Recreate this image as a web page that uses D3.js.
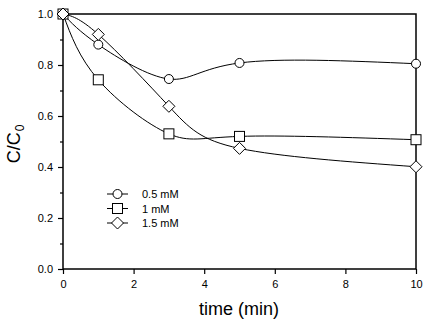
<!DOCTYPE html>
<html><head><meta charset="utf-8">
<script src="https://cdn.jsdelivr.net/npm/d3@7"></script>
<style>body{margin:0;background:#fff}svg{display:block}text{font-family:"Liberation Sans",Arial,sans-serif}</style>
</head><body>
<svg id="c" width="436" height="327"></svg>
<script>
const times = [0, 1, 3, 5, 10];
const seriesNames = ["0.5 mM", "1 mM", "1.5 mM"];
const vals05 = [1.0, 0.88, 0.745, 0.808, 0.805];
const vals1 = [1.0, 0.742, 0.53, 0.52, 0.507];
const vals15 = [1.0, 0.92, 0.638, 0.473, 0.401];
const xTicks = [0, 2, 4, 6, 8, 10];
const yTicks = [0.0, 0.2, 0.4, 0.6, 0.8, 1.0];
const yMinor = [0.1, 0.3, 0.5, 0.7, 0.9];
const markers = ["circle", "square", "diamond"];

const svg = d3.select("#c");
const L = 63, R = 416, T = 14, B = 269;
const x = d3.scaleLinear().domain([0, 10]).range([L, R]);
const y = d3.scaleLinear().domain([0, 1]).range([B, T]);

// frame
svg.append("rect").attr("x", L).attr("y", T).attr("width", R - L).attr("height", B - T)
  .attr("fill", "none").attr("stroke", "#000").attr("stroke-width", 1.5);

svg.append("g").attr("transform", `translate(0,${B})`)
  .call(d3.axisBottom(x).tickValues(xTicks).tickFormat(d3.format("d")).tickSizeOuter(0).tickSizeInner(5).tickPadding(6));
svg.append("g").attr("transform", `translate(${L},0)`)
  .call(d3.axisLeft(y).tickValues(yTicks).tickFormat(d3.format(".1f")).tickSizeOuter(0).tickSizeInner(5).tickPadding(5));
svg.append("g").attr("transform", `translate(${L},0)`)
  .call(d3.axisLeft(y).tickValues(yMinor).tickFormat("").tickSizeOuter(0).tickSizeInner(3));
svg.selectAll(".domain").remove();
svg.selectAll(".tick line").attr("stroke", "#000").attr("stroke-width", 1.2);
svg.selectAll(".tick text").attr("font-size", 11).attr("fill", "#000").style("font-family", "Liberation Sans, Arial, sans-serif");

// titles
svg.append("text").attr("x", 239).attr("y", 315).attr("text-anchor", "middle")
  .attr("font-size", 18).text("time (min)");
const yt = svg.append("text").attr("transform", `translate(20,144) rotate(-90)`)
  .attr("text-anchor", "middle").attr("font-size", 18);
yt.append("tspan").text("C/C");
yt.append("tspan").attr("font-size", 12).attr("dx", 1).attr("dy", 4).text("0");

const data = [vals05, vals1, vals15];
const line = d3.line().x((d, i) => x(times[i])).y(d => y(d)).curve(d3.curveNatural);

function drawMarker(g, type, cx, cy) {
  if (type === "circle") {
    g.append("circle").attr("cx", cx).attr("cy", cy).attr("r", 4.5)
      .attr("fill", "#fff").attr("stroke", "#000").attr("stroke-width", 1);
  } else if (type === "square") {
    g.append("rect").attr("x", cx - 5).attr("y", cy - 5).attr("width", 10).attr("height", 10)
      .attr("fill", "#fff").attr("stroke", "#000").attr("stroke-width", 1);
  } else {
    const s = 6;
    g.append("path").attr("d", `M${cx},${cy - s}L${cx + s},${cy}L${cx},${cy + s}L${cx - s},${cy}Z`)
      .attr("fill", "#fff").attr("stroke", "#000").attr("stroke-width", 1);
  }
}

data.forEach((vals) => {
  svg.append("path").datum(vals).attr("d", line).attr("fill", "none")
    .attr("stroke", "#000").attr("stroke-width", 1);
});
data.forEach((vals, si) => {
  const g = svg.append("g");
  vals.forEach((v, i) => drawMarker(g, markers[si], x(times[i]), y(v)));
});

// legend
const lg = svg.append("g");
seriesNames.forEach((n, i) => {
  const ly = 194 + i * 14.5;
  lg.append("line").attr("x1", 107).attr("x2", 128).attr("y1", ly).attr("y2", ly)
    .attr("stroke", "#000").attr("stroke-width", 1);
  drawMarker(lg, markers[i], 117.5, ly);
  lg.append("text").attr("x", 142).attr("y", ly + 4).attr("font-size", 11).text(n);
});
</script>
</body></html>
